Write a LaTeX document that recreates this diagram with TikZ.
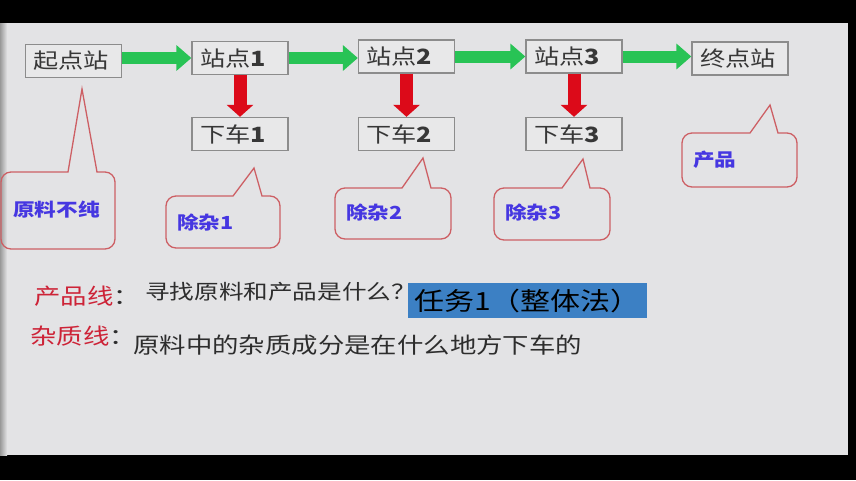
\documentclass[tikz,border=0pt]{standalone}
\usepackage{fontspec}
\newfontfamily\cjk[FakeStretch=1.2]{Noto Sans CJK SC}
\usetikzlibrary{arrows.meta}
\definecolor{bggray}{RGB}{227,227,229}
\definecolor{boxfill}{RGB}{232,232,233}
\definecolor{boxline}{RGB}{140,140,140}
\definecolor{boxtext}{RGB}{55,55,55}
\definecolor{gogreen}{RGB}{40,195,85}
\definecolor{offred}{RGB}{220,10,25}
\definecolor{tipline}{RGB}{205,95,100}
\definecolor{tipblue}{RGB}{70,55,225}
\definecolor{linered}{RGB}{205,35,55}
\definecolor{linetext}{RGB}{45,45,45}
\definecolor{taskblue}{RGB}{60,128,196}
\tikzset{
  station/.style={draw=boxline, line width=1.3pt, fill=boxfill, text=boxtext,
    text width=80pt, inner xsep=8pt, minimum height=33pt, align=left,
    font=\cjk\fontsize{21}{21}\selectfont},
  gogo/.style={gogreen, line width=12pt, -{Triangle[length=15pt,width=25pt]}},
  getoff/.style={offred, line width=13pt, -{Triangle[length=12pt,width=26pt]}},
  tip/.style={draw=tipline, line width=1.3pt},
  tiptext/.style={text=tipblue, anchor=west, inner sep=0pt,
    font=\cjk\bfseries\fontsize{18}{18}\selectfont},
  linelabel/.style={anchor=west, inner sep=0pt, text=linered,
    font=\cjk\fontsize{22}{22}\selectfont},
  linebody/.style={anchor=west, inner sep=0pt, text=linetext}
}
\begin{document}
\begin{tikzpicture}[x=1pt,y=-1pt]
	\useasboundingbox (0,0) rectangle (856,480);
	\fill[black] (0,0) rectangle (856,480);
	\fill[bggray] (0,23) rectangle (848,455);
	\shade[left color=gray!80, right color=bggray] (0,23) rectangle (7,455);
	% stations
	\node[station] (start) at (73.5,61) {起点站};
	\node[station] (st1) at (240,58) {站点\textbf{1}};
	\node[station] (st2) at (406.5,56.5) {站点\textbf{2}};
	\node[station] (st3) at (574,56.5) {站点\textbf{3}};
	\node[station] (end) at (740,58.5) {终点站};
	\node[station] (off1) at (240,134) {下车\textbf{1}};
	\node[station] (off2) at (406.5,134) {下车\textbf{2}};
	\node[station] (off3) at (574,134) {下车\textbf{3}};
	\draw[gogo] (start.east |- st1.west) -- (st1.west);
	\draw[gogo] (st1.east) -- (st1.east -| st2.west);
	\draw[gogo] (st2) -- (st3);
	\draw[gogo] (st3.east) -- (st3.east -| end.west);
	\draw[getoff] (st1) -- (off1);
	\draw[getoff] (st2) -- (off2);
	\draw[getoff] (st3) -- (off3);
	% callouts
	\draw[tip] (30,172) -- (68,172) -- (82,89) -- (97,172) -- (100,172) [rounded corners=10pt] -- (115,172) -- (115,249) -- (1,249) -- (1,172) -- cycle;
	\node[tiptext] (impure) at (13,210) {原料不纯};
	\draw[tip] (190,196) -- (233,196) -- (254,168) -- (262,196) -- (265,196) [rounded corners=10pt] -- (280,196) -- (280,248) -- (166,248) -- (166,196) -- cycle;
	\node[tiptext] (clean1) at (177,223) {除杂1};
	\draw[tip] (360,188) -- (402,188) -- (423,158) -- (431,188) -- (434,188) [rounded corners=10pt] -- (451,188) -- (451,239) -- (335,239) -- (335,188) -- cycle;
	\node[tiptext] (clean2) at (346,213) {除杂2};
	\draw[tip] (520,188) -- (562,188) -- (583,159) -- (590,188) -- (593,188) [rounded corners=10pt] -- (610,188) -- (610,240) -- (494,240) -- (494,188) -- cycle;
	\node[tiptext] (clean3) at (505,213) {除杂3};
	\draw[tip] (710,133) -- (750,133) -- (770,105) -- (778,133) -- (781,133) [rounded corners=10pt] -- (797,133) -- (797,187) -- (682,187) -- (682,133) -- cycle;
	\node[tiptext] (product) at (693,160) {产品};
	% two lines
	\node[linelabel] (prodline) at (34,296) {产品线\textcolor{linetext}{：}};
	\node[linebody, font=\cjk\fontsize{20.5}{20.5}\selectfont] (question) at (145,292) {寻找原料和产品是什么？};
	\node[fill=taskblue, minimum width=239pt, minimum height=35pt, inner sep=0pt,
	  font=\cjk\fontsize{25}{25}\selectfont] (task) at (527.5,300.5) {任务1（整体法）};
	\node[linelabel] (impline) at (30,336) {杂质线\textcolor{linetext}{：}};
	\node[linebody, font=\cjk\fontsize{22}{22}\selectfont] (where) at (133,345) {原料中的杂质成分是在什么地方下车的};
\end{tikzpicture}
\end{document}
